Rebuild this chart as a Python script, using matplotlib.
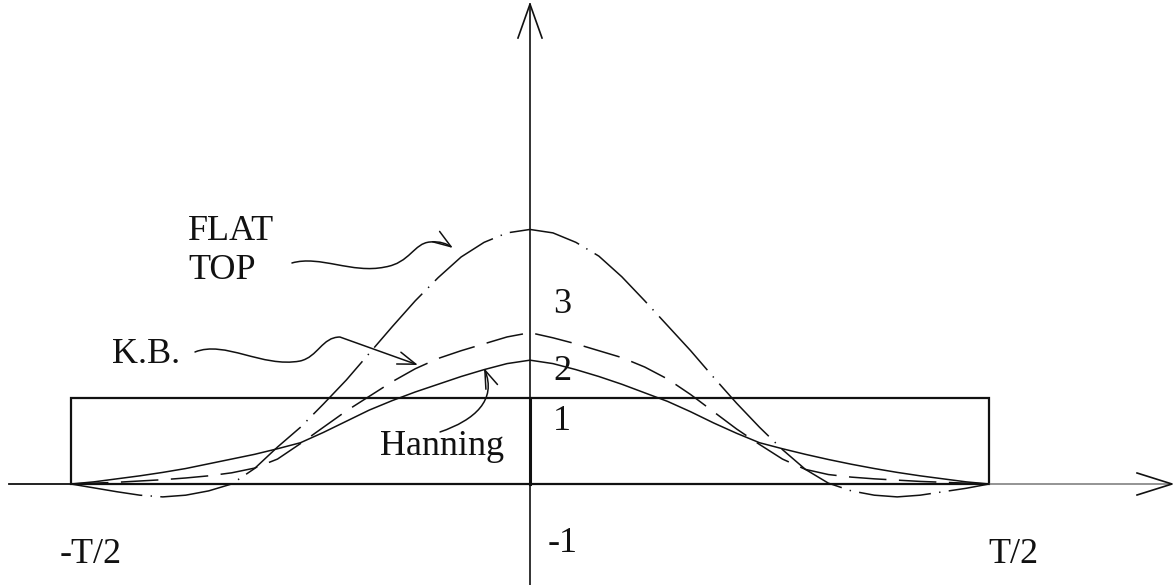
import matplotlib.pyplot as plt
from matplotlib.patches import Rectangle, FancyArrowPatch
from matplotlib.path import Path

# =========================
# DATA  (time in units of T, amplitude relative to the rectangular window)
# =========================

t = [-0.5, -0.475, -0.45, -0.425, -0.4, -0.375, -0.35, -0.325, -0.3, -0.275,
     -0.25, -0.225, -0.2, -0.175, -0.15, -0.125, -0.1, -0.075, -0.05, -0.025,
     0.0, 0.025, 0.05, 0.075, 0.1, 0.125, 0.15, 0.175, 0.2, 0.225,
     0.25, 0.275, 0.3, 0.325, 0.35, 0.375, 0.4, 0.425, 0.45, 0.475, 0.5]

hanning = [0.0, 0.025, 0.06, 0.095, 0.135, 0.18, 0.235, 0.29, 0.345, 0.41,
           0.48, 0.60, 0.73, 0.86, 0.97, 1.07, 1.16, 1.25, 1.33, 1.40,
           1.44, 1.40, 1.33, 1.25, 1.16, 1.06, 0.96, 0.84, 0.71, 0.59,
           0.48, 0.41, 0.345, 0.285, 0.23, 0.18, 0.135, 0.095, 0.06, 0.025, 0.0]

kaiser_bessel = [0.0, 0.01, 0.02, 0.035, 0.05, 0.07, 0.095, 0.13, 0.185, 0.29,
                 0.47, 0.66, 0.85, 1.02, 1.19, 1.34, 1.46, 1.55, 1.63, 1.71,
                 1.76, 1.70, 1.63, 1.55, 1.47, 1.36, 1.22, 1.04, 0.84, 0.64,
                 0.46, 0.29, 0.17, 0.11, 0.08, 0.06, 0.045, 0.03, 0.02, 0.01, 0.0]

flat_top = [0.0, -0.045, -0.09, -0.13, -0.15, -0.13, -0.08, 0.0, 0.18, 0.43,
            0.66, 0.93, 1.21, 1.52, 1.83, 2.13, 2.40, 2.64, 2.81, 2.92,
            2.96, 2.92, 2.81, 2.65, 2.41, 2.13, 1.84, 1.55, 1.24, 0.94,
            0.66, 0.40, 0.17, 0.01, -0.08, -0.13, -0.15, -0.13, -0.09, -0.05, 0.0]

rect_width = 1.0
rect_height = 1.0

level_labels = ["1", "2", "3", "-1"]
edge_labels = ["-T/2", "T/2"]

FONT = dict(family="Liberation Serif", fontsize=26, color="#111111")
INK = "#111111"

# =========================
# FIGURE
# =========================

plt.rcParams["lines.scale_dashes"] = False

fig = plt.figure(figsize=(11.73, 5.85), dpi=100)
ax = fig.add_axes([0, 0, 1, 1])
ax.set_xlim(-0.5773, 0.7004)
ax.set_ylim(-1.1744, 5.628)
ax.axis("off")

# axes with open arrowheads
ax.plot([-0.568, -0.5], [0, 0], color=INK, lw=1.3)
ax.plot([0.5, 0.698], [0, 0], color="#777777", lw=1.1)
ax.plot([0.6612, 0.6993, 0.6612], [0.128, 0, -0.128], color=INK, lw=1.2)

ax.plot([0, 0], [-1.2, 5.58], color=INK, lw=1.2)
ax.plot([-0.0131, 0, 0.0131], [5.186, 5.58, 5.186], color=INK, lw=1.2)

# rectangular window
ax.add_patch(Rectangle((-rect_width / 2, 0), rect_width, rect_height,
                       fill=False, edgecolor=INK, lw=1.6))
ax.plot([0, 0], [0, rect_height], color=INK, lw=2.2)

# window shapes
ax.plot(t, hanning, color=INK, lw=1.1)
ax.plot(t, kaiser_bessel, color=INK, lw=1.1, dashes=(27, 9))
ax.plot(t, flat_top, color=INK, lw=1.1, dashes=(52, 6, 1, 6))

# =========================
# LABELS
# =========================

def squiggle(verts, codes):
    arrow = FancyArrowPatch(path=Path(verts, codes),
                            arrowstyle="->,head_length=1.3,head_width=0.45",
                            mutation_scale=10, color=INK, lw=1.1)
    ax.add_patch(arrow)

C4 = Path.CURVE4

squiggle([(-0.2593, 2.570), (-0.2288, 2.663), (-0.1939, 2.442), (-0.1580, 2.523),
          (-0.1307, 2.570), (-0.1264, 2.802), (-0.1089, 2.814),
          (-0.0980, 2.826), (-0.0904, 2.791), (-0.0839, 2.744)],
         [Path.MOVETO, C4, C4, C4, C4, C4, C4, C4, C4, C4])

squiggle([(-0.3649, 1.535), (-0.3322, 1.674), (-0.2919, 1.349), (-0.2505, 1.430),
          (-0.2309, 1.477), (-0.2266, 1.709), (-0.2070, 1.709),
          (-0.1220, 1.384)],
         [Path.MOVETO, C4, C4, C4, C4, C4, C4, Path.LINETO])

squiggle([(-0.0980, 0.605), (-0.0600, 0.744), (-0.0359, 0.977), (-0.0501, 1.349)],
         [Path.MOVETO, C4, C4, C4])

ax.text(-0.3725, 2.837, "FLAT", **FONT)
ax.text(-0.3725, 2.38, "TOP", **FONT)
ax.text(-0.4553, 1.407, "K.B.", **FONT)
ax.text(-0.1634, 0.337, "Hanning", **FONT)

ax.text(0.0251, 0.628, level_labels[0], **FONT)
ax.text(0.0251, 1.209, level_labels[1], **FONT)
ax.text(0.0251, 1.988, level_labels[2], **FONT)
ax.text(0.0196, -0.791, level_labels[3], **FONT)

ax.text(-0.512, -0.919, edge_labels[0], **FONT)
ax.text(0.4989, -0.919, edge_labels[1], **FONT)

fig.savefig("out.png", dpi=100, facecolor="white")
